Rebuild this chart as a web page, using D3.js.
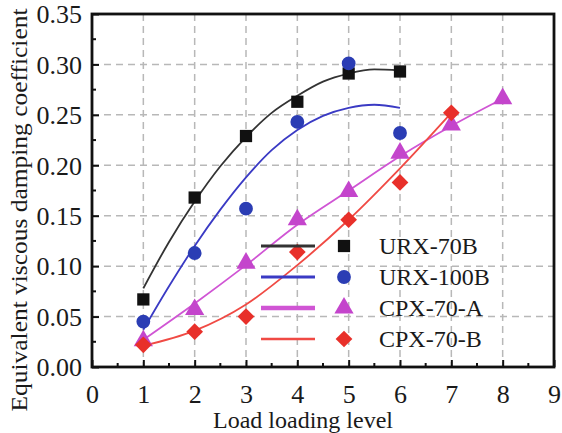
<!DOCTYPE html>
<html>
<head>
<meta charset="utf-8">
<script src="https://cdn.jsdelivr.net/npm/d3@7"></script>
<style>
  body { margin: 0; background: #fff; }
  text { font-family: "Liberation Serif", "Times New Roman", serif; fill: #1a1a1a; }
</style>
</head>
<body>
<div id="chart"></div>
<script>
var w = 562,
	h = 433;

// measured points
var levels = [1, 2, 3, 4, 5, 6, 7, 8];
var urx70b = [0.067, 0.168, 0.229, 0.263, 0.291, 0.293];
var urx100b = [0.045, 0.113, 0.157, 0.243, 0.301, 0.232];
var cpx70a = [0.026, 0.057, 0.103, 0.146, 0.174, 0.212, 0.240, 0.266];
var cpx70b = [0.022, 0.035, 0.050, 0.114, 0.146, 0.183, 0.252];

// fitted curves
var fitX = [1, 1.5, 2, 2.5, 3, 3.5, 4, 4.5, 5, 5.5, 6];
var fit70b = [0.078, 0.124, 0.164, 0.199, 0.228, 0.252, 0.269, 0.283, 0.291, 0.295, 0.294];
var fit100b = [0.037, 0.080, 0.120, 0.156, 0.188, 0.215, 0.235, 0.249, 0.257, 0.260, 0.257];
var fitA = [0.027, 0.063, 0.101, 0.141, 0.175, 0.209, 0.239, 0.266];
var fitB = [0.021, 0.036, 0.062, 0.101, 0.146, 0.197, 0.252];

var xTicks = [0, 1, 2, 3, 4, 5, 6, 7, 8, 9];
var yTicks = [0, 0.05, 0.10, 0.15, 0.20, 0.25, 0.30, 0.35];
var names = ["URX-70B", "URX-100B", "CPX-70-A", "CPX-70-B"];

var series = [
	{ name: names[0], pts: urx70b, fitX: fitX, fit: fit70b, color: "#111", line: "#333", sym: d3.symbolSquare, size: 150, rot: 0, lw: 3 },
	{ name: names[1], pts: urx100b, fitX: fitX, fit: fit100b, color: "#2b3db4", line: "#3a3ac4", sym: d3.symbolCircle, size: 150, rot: 0, lw: 3 },
	{ name: names[2], pts: cpx70a, fitX: levels, fit: fitA, color: "#c445cc", line: "#d055d4", sym: d3.symbolTriangle, size: 160, rot: 0, lw: 4.5 },
	{ name: names[3], pts: cpx70b, fitX: levels, fit: fitB, color: "#e8302a", line: "#f04a44", sym: d3.symbolSquare, size: 140, rot: 45, lw: 2.5 }
];

var m = { l: 92, r: 554, t: 14, b: 367 };

var root = d3.select("#chart").append("svg").attr("width", w).attr("height", h);

var x = d3.scaleLinear().domain([0, 9]).range([m.l, m.r]);
var y = d3.scaleLinear().domain([0, 0.35]).range([m.b, m.t]);

// grid
root.append("g").selectAll("line").data(xTicks.slice(1, -1)).enter().append("line")
	.attr("x1", function(d) { return x(d); }).attr("x2", function(d) { return x(d); })
	.attr("y1", m.t).attr("y2", m.b)
	.style("stroke", "#b8b8b8").style("stroke-width", 1.5).style("stroke-dasharray", "7,5");
root.append("g").selectAll("line").data(yTicks.slice(1, -1)).enter().append("line")
	.attr("y1", function(d) { return y(d); }).attr("y2", function(d) { return y(d); })
	.attr("x1", m.l).attr("x2", m.r)
	.style("stroke", "#b8b8b8").style("stroke-width", 1.5).style("stroke-dasharray", "7,5");

// axes with inward ticks
var xAxis = d3.axisBottom(x).tickValues(xTicks).tickSize(-7).tickPadding(18).tickFormat(d3.format("d"));
var yAxis = d3.axisLeft(y).tickValues(yTicks).tickSize(-7).tickPadding(10).tickFormat(d3.format(".2f"));

var gx = root.append("g").attr("transform", "translate(0," + m.b + ")").call(xAxis);
var gy = root.append("g").attr("transform", "translate(" + m.l + ",0)").call(yAxis);
[gx, gy].forEach(function(g) {
	g.select(".domain").remove();
	g.selectAll(".tick line").style("stroke", "#111").style("stroke-width", 2);
	g.selectAll(".tick text").style("font-family", "Liberation Serif").style("font-size", "26px").style("fill", "#1a1a1a");
});
gy.selectAll(".tick text").attr("dy", "0.34em");

// minor ticks
var xMinor = d3.range(0.5, 9, 1);
var yMinor = d3.range(0.025, 0.35, 0.05);
root.append("g").selectAll("line").data(xMinor).enter().append("line")
	.attr("x1", function(d) { return x(d); }).attr("x2", function(d) { return x(d); })
	.attr("y1", m.b).attr("y2", m.b - 4)
	.style("stroke", "#111").style("stroke-width", 2);
root.append("g").selectAll("line").data(yMinor).enter().append("line")
	.attr("y1", function(d) { return y(d); }).attr("y2", function(d) { return y(d); })
	.attr("x1", m.l).attr("x2", m.l + 4)
	.style("stroke", "#111").style("stroke-width", 2);

// frame
root.append("rect").attr("x", m.l).attr("y", m.t).attr("width", m.r - m.l).attr("height", m.b - m.t)
	.style("fill", "none").style("stroke", "#111").style("stroke-width", 2.8);

// fit curves
var line = d3.line()
	.x(function(d) { return x(d[0]); })
	.y(function(d) { return y(d[1]); })
	.curve(d3.curveMonotoneX);

series.forEach(function(s) {
	var data = s.fit.map(function(v, i) { return [s.fitX[i], v]; });
	root.append("path").datum(data).attr("d", line)
		.style("fill", "none").style("stroke", s.line).style("stroke-width", 1.8);
});

// markers
series.forEach(function(s) {
	root.append("g").selectAll("path").data(s.pts).enter().append("path")
		.attr("d", d3.symbol().type(s.sym).size(s.size))
		.attr("transform", function(d, i) { return "translate(" + x(levels[i]) + "," + y(d) + ") rotate(" + s.rot + ")"; })
		.style("fill", s.color);
});

// legend
var lg = root.append("g");
series.forEach(function(s, i) {
	var ly = 246 + i * 31;
	lg.append("line").attr("x1", 261).attr("x2", 315).attr("y1", ly).attr("y2", ly)
		.style("stroke", s.line).style("stroke-width", s.lw);
	lg.append("path").attr("d", d3.symbol().type(s.sym).size(s.size)())
		.attr("transform", "translate(344," + ly + ") rotate(" + s.rot + ")").style("fill", s.color);
	lg.append("text").attr("x", 379).attr("y", ly + 8).style("font-size", "24px").text(s.name);
});

// axis titles
root.append("text").attr("x", 303).attr("y", 428).attr("text-anchor", "middle")
	.style("font-size", "24px").text("Load loading level");
root.append("text").attr("transform", "translate(27,210) rotate(-90)").attr("text-anchor", "middle")
	.attr("textLength", 403).attr("lengthAdjust", "spacingAndGlyphs")
	.style("font-size", "23px").text("Equivalent viscous damping coefficient");
</script>
</body>
</html>
